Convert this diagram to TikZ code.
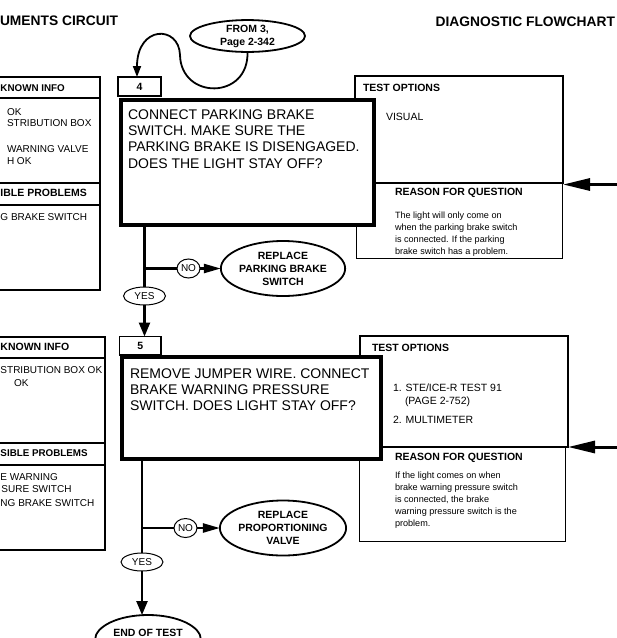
\documentclass[tikz,border=0pt]{standalone}
\usepackage{fontspec}
\setmainfont{Liberation Sans}
\usetikzlibrary{shapes.geometric,arrows.meta,calc}
\newcommand\mytitlefont{\fontsize{13.8}{16}\selectfont\bfseries}
\newcommand\mymainfont{\fontsize{14}{16.3}\selectfont}
\newcommand\myovalfont{\fontsize{10.5}{13}\selectfont\bfseries}
\newcommand\myheadfont{\fontsize{10.5}{12}\selectfont\bfseries}
\newcommand\myleftheadfont{\fontsize{9.8}{12}\selectfont\bfseries}
\newcommand\myoptfont{\fontsize{10.5}{14}\selectfont}
\newcommand\myreasonfont{\fontsize{9.1}{12}\selectfont}
\newcommand\myknownfont{\fontsize{10}{12.3}\selectfont}
\newcommand\mynofont{\fontsize{10}{12}\selectfont}
\begin{document}
\begin{tikzpicture}[x=1pt,y=-1pt,inner sep=0pt,outer sep=0pt,
  boxx/.style={draw,rectangle,fill=white},
  mainbox/.style={boxx,line width=4pt},
  optbox/.style={boxx,line width=2pt},
  thinbox/.style={boxx,line width=1pt},
  labbox/.style={boxx,line width=1.5pt,font=\myheadfont},
  ovalnode/.style={draw,ellipse,fill=white,line width=1.8pt,align=center,font=\myovalfont},
  ynnode/.style={draw,ellipse,fill=white,line width=1pt,font=\mynofont},
  flow/.style={line width=2.4pt},
  downarrow/.style={flow,-{Triangle[length=14pt,width=11pt]}},
  noarrow/.style={flow,-{Triangle[length=17pt,width=9pt]}},
  bigarrow/.style={line width=3pt,-{Triangle[length=27pt,width=12pt]}},
  curvearrow/.style={line width=1.8pt,-{Triangle[length=11pt,width=8pt]}},
  txt/.style={anchor=west},
  rtxt/.style={anchor=east},
  qtext/.style={anchor=north west,align=left,font=\mymainfont},
  rtext/.style={anchor=north west,align=left,font=\myreasonfont}]
\useasboundingbox (0,0) rectangle (617,638);
\clip (0,0) rectangle (617,638);
\fill[white] (0,0) rectangle (617,638);

% titles
\node[txt,font=\mytitlefont] (title1) at (0,20.5) {UMENTS CIRCUIT};
\node[rtxt,font=\mytitlefont] (title2) at (615,22) {DIAGNOSTIC FLOWCHART};

% ===== section 4 =====
\node[thinbox,minimum width=160pt,minimum height=213pt,line width=1.2pt] (left1) at (20,183.5) {};
\draw[line width=1.2pt] (-60,98) -- (left1.east |- 0,98);
\draw[line width=1.2pt] (-60,183) -- (left1.east |- 0,183);
\draw[line width=1.2pt] (-60,205) -- (left1.east |- 0,205);
\node[txt,font=\myleftheadfont] (k1h) at (0.5,88) {KNOWN INFO};
\node[txt,font=\myknownfont] (k1a) at (7,112) {OK};
\node[txt,font=\myknownfont] (k1b) at (7,123.5) {STRIBUTION BOX};
\node[txt,font=\myknownfont] (k1c) at (7,149) {WARNING VALVE};
\node[txt,font=\myknownfont] (k1d) at (7,161) {H OK};
\node[txt,font=\myheadfont] (p1h) at (0.5,193) {IBLE PROBLEMS};
\node[txt,font=\myknownfont] (p1a) at (0.5,217) {G BRAKE SWITCH};

\node[thinbox,minimum width=206pt,minimum height=75pt] (rsn1) at (459,220.5) {};
\node[optbox,minimum width=208pt,minimum height=107pt] (opt1) at (459,129.5) {};
\node[txt,font=\myheadfont] (o1h) at (363,88) {TEST OPTIONS};
\node[txt,font=\myoptfont] (o1a) at (386,117) {VISUAL};
\node[txt,font=\myheadfont] (r1h) at (395,193) {REASON FOR QUESTION};
\node[rtext] (r1t) at (395,212) {The light will only come on\\when the parking brake switch\\is connected. If the parking\\brake switch has a problem.};

\node[labbox,minimum width=43pt,minimum height=19pt] (box4lab) at (139.5,86.5) {4};
\node[mainbox,minimum width=252.5pt,minimum height=125pt] (main4) at (247.25,162.5) {};
\node[qtext] (q4) at (128,109.4) {CONNECT PARKING BRAKE\\SWITCH. MAKE SURE THE\\PARKING BRAKE IS DISENGAGED.\\DOES THE LIGHT STAY OFF?};

\node[ovalnode,minimum width=115pt,minimum height=31pt] (from3) at (247.5,36) {FROM 3,\\Page 2-342};
\draw[curvearrow] (from3.south) .. controls (249,100) and (181,100) .. (180,55)
  .. controls (179,25) and (137,25) .. ($(box4lab.north)+(-2.5,0)$);

\coordinate (rr1) at (617,184.5);
\draw[bigarrow] (rr1) -- (opt1.south east |- rr1);

% flow 4
\coordinate (j1) at (144.5,268.5);
\node[ynnode,minimum width=23pt,minimum height=19pt] (no1) at (188.5,268.5) {NO};
\node[ovalnode,minimum width=110pt,minimum height=55pt] (rep1) at (283,268.5) {REPLACE\\PARKING BRAKE\\SWITCH};
\node[ynnode,minimum width=42pt,minimum height=18pt] (yes1) at (144.5,296) {YES};
\draw[flow] (main4.south -| j1) -- (yes1);
\draw[flow] (j1) -- (no1);
\draw[noarrow] (no1) -- (rep1);

% ===== section 5 =====
\node[thinbox,minimum width=165pt,minimum height=213pt,line width=1.2pt] (left2) at (22.5,443.5) {};
\draw[line width=1.2pt] (-60,358) -- (left2.east |- 0,358);
\draw[line width=1.2pt] (-60,443) -- (left2.east |- 0,443);
\draw[line width=1.2pt] (-60,465) -- (left2.east |- 0,465);
\node[txt,font=\myheadfont] (k2h) at (0.5,347) {KNOWN INFO};
\node[txt,font=\myknownfont] (k2a) at (0.5,370) {STRIBUTION BOX OK};
\node[txt,font=\myknownfont] (k2b) at (14,383) {OK};
\node[txt,font=\myleftheadfont] (p2h) at (0.5,453) {SIBLE PROBLEMS};
\node[txt,font=\myknownfont] (p2a) at (0.5,477) {E WARNING};
\node[txt,font=\myknownfont] (p2b) at (1.5,489.5) {SURE SWITCH};
\node[txt,font=\myknownfont] (p2c) at (0.5,503) {NG BRAKE SWITCH};

\node[thinbox,minimum width=206pt,minimum height=94pt] (rsn2) at (462,494) {};
\node[optbox,minimum width=208pt,minimum height=111pt] (opt2) at (464,391.5) {};
\node[txt,font=\myheadfont] (o2h) at (372,348) {TEST OPTIONS};
\node[txt,font=\myoptfont] (o2a) at (393,388) {1. STE/ICE-R TEST 91};
\node[txt,font=\myoptfont] (o2b) at (405,402) {(PAGE 2-752)};
\node[txt,font=\myoptfont] (o2c) at (393,420) {2. MULTIMETER};
\node[txt,font=\myheadfont] (r2h) at (395,458) {REASON FOR QUESTION};
\node[rtext] (r2t) at (395,471.5) {If the light comes on when\\brake warning pressure switch\\is connected, the brake\\warning pressure switch is the\\problem.};

\node[labbox,minimum width=41.5pt,minimum height=18.5pt] (box5lab) at (140.25,345.75) {5};
\node[mainbox,minimum width=258.5pt,minimum height=102pt] (main5) at (251.25,408) {};
\node[qtext] (q5) at (130,368.4) {REMOVE JUMPER WIRE. CONNECT\\BRAKE WARNING PRESSURE\\SWITCH. DOES LIGHT STAY OFF?};

\coordinate (rr2) at (617,447);
\draw[bigarrow] (rr2) -- (opt2.south east |- rr2);

\draw[downarrow] (yes1) -- (yes1 |- box5lab.north);

% flow 5
\coordinate (j2) at (142,528);
\node[ynnode,minimum width=23pt,minimum height=19pt] (no2) at (185.5,528) {NO};
\node[ovalnode,minimum width=115pt,minimum height=55pt] (rep2) at (283,528) {REPLACE\\PROPORTIONING\\VALVE};
\node[ynnode,minimum width=42pt,minimum height=18pt] (yes2) at (142,562) {YES};
\node[ovalnode,minimum width=106pt,minimum height=50pt] (endtest) at (148,640) {};
\node[font=\myovalfont] (endlab) at (148,632.5) {END OF TEST};
\draw[flow] (main5.south -| j2) -- (yes2);
\draw[flow] (j2) -- (no2);
\draw[noarrow] (no2) -- (rep2);
\draw[downarrow] (yes2) -- (yes2 |- endtest.north);
\end{tikzpicture}
\end{document}
